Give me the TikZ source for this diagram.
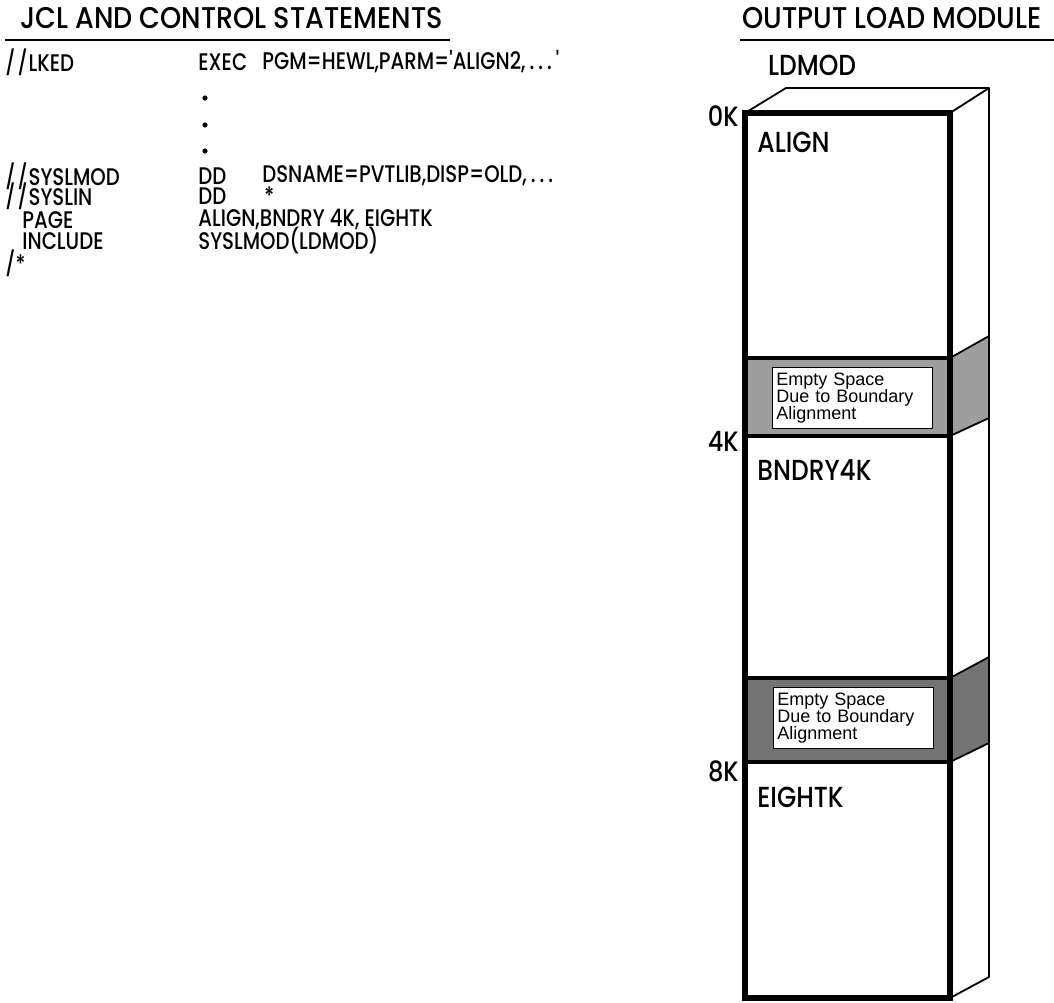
\documentclass[tikz,border=0pt]{standalone}
\usepackage{fontspec}
\setmainfont{Poppins}[UprightFont=* Medium, FakeStretch=0.86]
\newfontfamily\hdrfont{Poppins}[UprightFont=* Medium, FakeStretch=0.9]
\newfontfamily\listfont{Poppins}[UprightFont=* Medium, FakeStretch=0.82]
\newfontfamily\notefont{Liberation Sans}
\usetikzlibrary{positioning, calc}
\definecolor{bandlight}{gray}{0.62}
\definecolor{banddark}{gray}{0.45}
\newcommand{\jslash}{/\kern1pt/\kern0.5pt}
\tikzset{
  hdr/.style={anchor=west, inner sep=0pt, font=\hdrfont\fontsize{15}{16}\selectfont},
  jcl/.style={anchor=west, inner sep=0pt, font=\listfont\fontsize{12}{13}\selectfont},
  seg/.style={anchor=west, inner sep=0pt, font=\fontsize{14.5}{16}\selectfont},
  addr/.style={anchor=east, inner sep=0pt, font=\fontsize{14}{16}\selectfont},
  note/.style={fill=white, draw=black, line width=0.4pt, anchor=north west,
    align=left, inner sep=2pt, text width=76pt, minimum height=30.5pt,
    font=\notefont\fontsize{9}{8.5}\selectfont},
  frontline/.style={line width=3pt, line cap=square},
  sideline/.style={line width=0.9pt, line join=round},
  bandline/.style={line width=1.6pt},
  rule/.style={line width=0.8pt}
}

\begin{document}
\begin{tikzpicture}[x=0.5pt, y=-0.5pt]
  \useasboundingbox (0,0) rectangle (1054,1002);

  %% headings
  \node[hdr] (hdrjcl) at (20,18) {JCL AND CONTROL STATEMENTS};
  \node[hdr] (hdrout) at (742,18) {OUTPUT LOAD MODULE};
  \draw[rule] (5,40) -- (450,40);
  \draw[rule] (740,40) -- (1054,40);

  %% JCL listing
  \node[jcl] (lked)     at (5,62)   {\jslash LKED};
  \node[jcl] (lkedop)   at (198,62) {EXEC};
  \node[jcl] (lkedarg)  at (262,62) {PGM=HEWL,PARM='ALIGN2,\,.\,.\,.\,'};
  \foreach \y [count=\i] in {98,125,151}
    \node[circle, fill, inner sep=0pt, minimum size=2.6pt] (dot\i) at (205,\y) {};
  \node[jcl] (slmod)    at (5,176)  {\jslash SYSLMOD};
  \node[jcl] (slmodop)  at (198,176){DD};
  \node[jcl] (slmodarg) at (262,176){DSNAME=PVTLIB,DISP=OLD,\,.\,.\,.};
  \node[jcl] (slin)     at (5,196)  {\jslash SYSLIN};
  \node[jcl] (slinop)   at (198,196){DD};
  \node[jcl] (slinarg)  at (264,196){*};
  \node[jcl] (page)     at (22,220) {PAGE};
  \node[jcl] (pagearg)  at (198,220){ALIGN,BNDRY 4K, EIGHTK};
  \node[jcl] (incl)     at (22,241) {INCLUDE};
  \node[jcl] (inclarg)  at (198,241){SYSLMOD(LDMOD)};
  \node[jcl] (delim)    at (5,263)  {/*};

  %% load module block
  \node[seg, anchor=center] (ldmod) at (812,65) {LDMOD};

  %% shaded gaps
  \fill[bandlight] (745,358) rectangle (950,436);
  \filldraw[bandlight, draw=black, sideline] (950,358) -- (989,336) -- (989,418) -- (950,436) -- cycle;
  \fill[banddark] (745,678) rectangle (950,762);
  \filldraw[banddark, draw=black, sideline] (950,678) -- (989,657) -- (989,743) -- (950,762) -- cycle;
  \node[note] (gap1) at (772,367) {Empty Space\\Due to Boundary\\Alignment};
  \node[note] (gap2) at (773,687) {Empty Space\\Due to Boundary\\Alignment};
  \draw[bandline] (745,358) -- (950,358);
  \draw[bandline] (745,436) -- (950,436);
  \draw[bandline] (745,678) -- (950,678);
  \draw[bandline] (745,762) -- (950,762);

  %% top and side faces
  \draw[sideline] (745,113) -- (786,88) -- (989,88) -- (950,113);
  \draw[sideline] (989,88) -- (989,977) -- (950,998);

  %% front face
  \draw[frontline] (745,113) rectangle (950,998);

  %% addresses and section names
  \node[addr] (k0) at (739,116) {0K};
  \node[addr] (k4) at (739,441) {4K};
  \node[addr] (k8) at (739,771) {8K};
  \node[seg] (secalign) at (757,142) {ALIGN};
  \node[seg] (secbndry) at (757,470) {BNDRY4K};
  \node[seg] (seceight) at (757,797) {EIGHTK};
\end{tikzpicture}
\end{document}
